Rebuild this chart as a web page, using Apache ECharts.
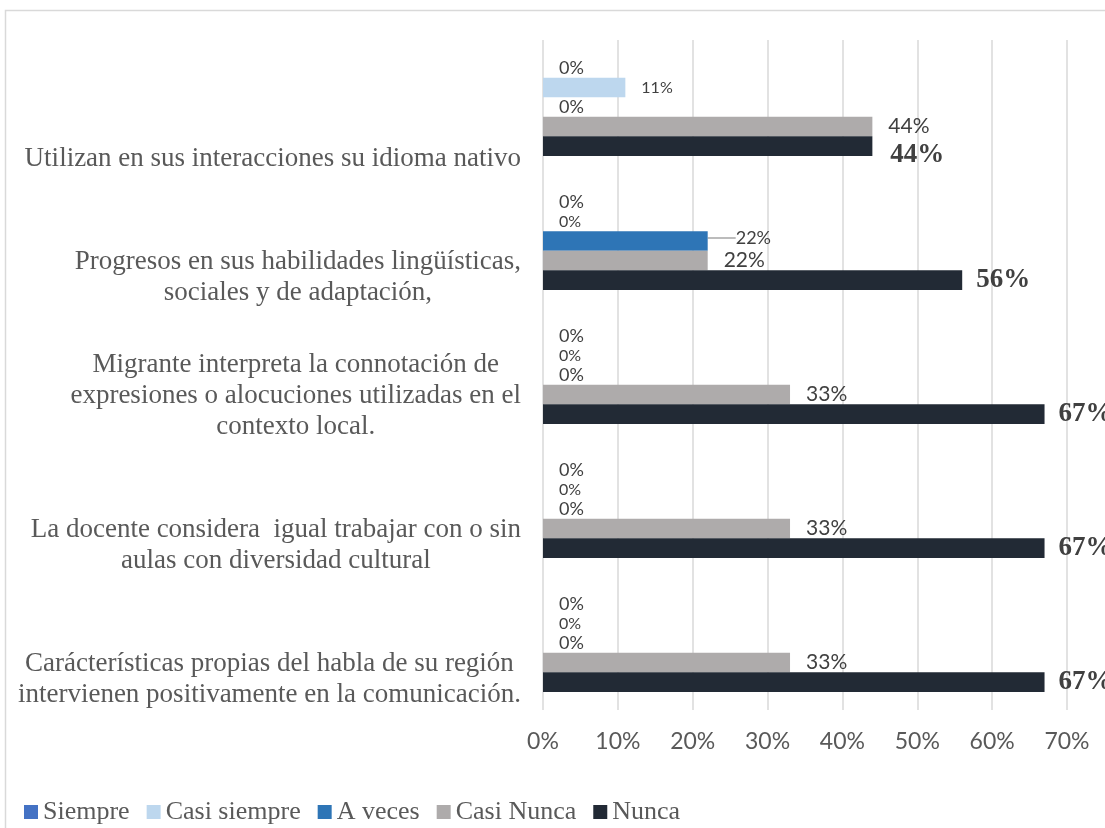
<!DOCTYPE html>
<html>
<head>
<meta charset="utf-8">
<script src="https://cdn.jsdelivr.net/npm/echarts@6/dist/echarts.min.js"></script>
<style>
  html, body { margin: 0; padding: 0; background: #fff; }
  #chart { width: 1105px; height: 828px; }
</style>
</head>
<body>
<div id="chart"></div>
<script>
// Survey items (top to bottom)
const categories = [
  'Utilizan en sus interacciones su idioma nativo',
  'Progresos en sus habilidades lingüísticas,\nsociales y de adaptación,',
  'Migrante interpreta la connotación de\nexpresiones o alocuciones utilizadas en el\ncontexto local.',
  'La docente considera  igual trabajar con o sin\naulas con diversidad cultural',
  'Carácterísticas propias del habla de su región\nintervienen positivamente en la comunicación.'
];

// Answer shares, in percent
const siempre     = [0, 0, 0, 0, 0];
const casiSiempre = [11, 0, 0, 0, 0];
const aVeces      = [0, 22, 0, 0, 0];
const casiNunca   = [44, 22, 33, 33, 33];
const nunca       = [44, 56, 67, 67, 67];

const seriesNames = ['Siempre', 'Casi siempre', 'A veces', 'Casi Nunca', 'Nunca'];
const xTicks = [0, 10, 20, 30, 40, 50, 60, 70];

const SERIF = '"Liberation Serif", "Times New Roman", serif';
const SANS = 'Lato, "Noto Sans", sans-serif';

function sansLabel(size) {
  return {
    show: true, position: 'right', distance: 16,
    formatter: '{c}%', color: '#404040',
    fontFamily: SANS, fontSize: size
  };
}

const chart = echarts.init(document.getElementById('chart'), null, { renderer: 'canvas' });

const option = {
  animation: false,
  backgroundColor: '#fff',
  graphic: [{
    type: 'rect', silent: true, z: -10,
    shape: { x: 5.5, y: 10.5, width: 1200, height: 900 },
    style: { fill: 'none', stroke: '#d9d9d9', lineWidth: 1.5 }
  }],
  legend: {
    data: seriesNames,
    left: 19, top: 794,
    icon: 'rect', itemWidth: 14, itemHeight: 14, itemGap: 17,
    textStyle: { fontFamily: SERIF, fontSize: 26, color: '#595959' }
  },
  grid: { left: 543, right: 38, top: 40, bottom: 118, containLabel: false, outerBoundsMode: 'none' },
  xAxis: {
    type: 'value', min: 0, max: 70, interval: 10,
    axisLine: { show: false }, axisTick: { show: false },
    splitLine: { show: true, lineStyle: { color: '#d9d9d9', width: 1.5 } },
    axisLabel: {
      formatter: v => (xTicks.includes(v) ? v + '%' : ''),
      margin: 20, color: '#595959', fontFamily: SANS, fontSize: 23
    }
  },
  yAxis: {
    type: 'category', data: categories, inverse: true,
    axisLine: { show: false }, axisTick: { show: false },
    axisLabel: {
      interval: 0, margin: 22, align: 'right', verticalAlign: 'bottom',
      padding: [0, 0, -67, 0],
      formatter: v => v.split('\n').map(l => '{c|' + l + '}').join('\n'),
      rich: {
        c: { align: 'center', fontFamily: SERIF, fontSize: 27, lineHeight: 31, color: '#595959' }
      }
    }
  },
  series: [
    {
      name: 'Siempre', type: 'bar', data: siempre,
      barGap: '0%', barCategoryGap: '27%',
      itemStyle: { color: '#4472C4' },
      label: sansLabel(18)
    },
    {
      name: 'Casi siempre', type: 'bar', data: casiSiempre,
      barGap: '0%', barCategoryGap: '27%',
      itemStyle: { color: '#BDD7EE' },
      label: sansLabel(16)
    },
    {
      name: 'A veces', type: 'bar',
      // the 22% label is pulled off its bar with a short leader line
      data: aVeces.map((v, i) => (i === 1
        ? { value: v, labelLine: { show: true, lineStyle: { color: '#a6a6a6', width: 1.5 } } }
        : v)),
      barGap: '0%', barCategoryGap: '27%',
      itemStyle: { color: '#2E75B6' },
      label: sansLabel(18),
      labelLine: { show: false, length2: 0 },
      labelLayout: p => (p.dataIndex === 1 ? { dx: 12, dy: -3 } : {})
    },
    {
      name: 'Casi Nunca', type: 'bar', data: casiNunca,
      barGap: '0%', barCategoryGap: '27%',
      itemStyle: { color: '#AEABAB' },
      label: sansLabel(21)
    },
    {
      name: 'Nunca', type: 'bar',
      data: nunca.map((v, i) => (i === 0 ? { value: v, label: { offset: [4, 9] } } : v)),
      barGap: '0%', barCategoryGap: '27%',
      itemStyle: { color: '#222A35' },
      label: {
        show: true, position: 'right', distance: 14,
        formatter: '{c}%', color: '#404040',
        fontFamily: SERIF, fontSize: 27, fontWeight: 'bold'
      }
    }
  ]
};

chart.setOption(option);
</script>
</body>
</html>
